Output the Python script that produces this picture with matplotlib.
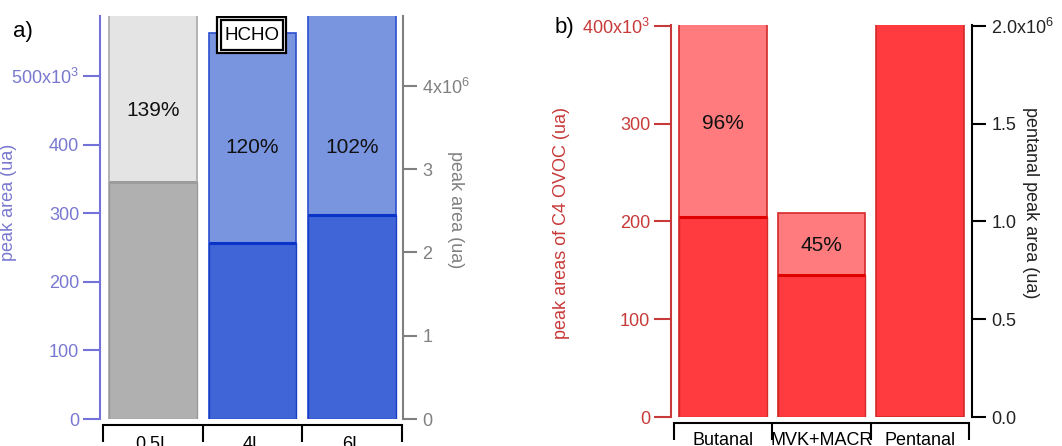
import matplotlib
matplotlib.use("Agg")
import matplotlib.pyplot as plt
from matplotlib.patches import Rectangle
from matplotlib.ticker import FixedLocator
import numpy as np

plt.rcParams['font.family'] = ['Liberation Sans', 'DejaVu Sans']
plt.rcParams['mathtext.fontset'] = 'custom'
plt.rcParams['mathtext.rm'] = 'Liberation Sans'

# panel a: HCHO
cats_a = ['0.5L', '4L', '6L']
dark_a = [345, 256, 297]            # left axis (x10^3)
light_a = [5.0e6, 4.63e6, 5.0e6]    # right axis
pct_a = ['139%', '120%', '102%']
pct_pos_a = [450, 396, 396]

# panel b: C4 OVOC + pentanal
cats_b = ['Butanal', 'MVK+MACR', 'Pentanal']
dark_b = [205, 145]                 # left axis (x10^3)
light_b = [410, 209]
pentanal = [2.05e6]                 # right axis
pct_b = ['96%', '45%']
pct_pos_b = [300, 175]

W, H = 1062, 446
fig = plt.figure(figsize=(W / 100, H / 100), dpi=100)

TICK_FS = 13
LAB_FS = 13


def style_bottom(ax, cats, xl, xr, pad):
    ax.set_xlim(xl, xr)
    ax.spines['top'].set_visible(False)
    ax.spines['bottom'].set_position(('outward', 4))
    ax.spines['bottom'].set_bounds(-0.5, len(cats) - 0.5)
    ax.spines['bottom'].set_linewidth(1.5)
    ax.xaxis.set_major_locator(FixedLocator(np.arange(len(cats) + 1) - 0.5))
    ax.xaxis.set_minor_locator(FixedLocator(np.arange(len(cats))))
    ax.set_xticklabels([''] * (len(cats) + 1))
    ax.set_xticklabels(cats, minor=True)
    ax.tick_params(axis='x', which='major', direction='out', length=12, width=1.5)
    ax.tick_params(axis='x', which='minor', length=0, labelsize=TICK_FS, pad=pad)


# ---------------- panel a ----------------
ax = fig.add_axes([100 / W, 27 / H, 303 / W, 403.3 / H])
axr = ax.twinx()
ax.set_zorder(axr.get_zorder() + 1)
ax.patch.set_visible(False)

x = np.arange(len(cats_a))
light_col = ['#e4e4e4', '#7a95e0', '#7a95e0']
light_edge = ['#a8a8a8', '#2a4fd0', '#2a4fd0']
dark_col = ['#b0b0b0', '#4065d6', '#4065d6']
dark_edge = ['#9a9a9a', '#1a40c8', '#1a40c8']
top_col = ['#9c9c9c', '#0a34c8', '#0a34c8']

axr.bar(x, light_a, width=0.88, color=light_col, edgecolor=light_edge, linewidth=1.2)
ax.bar(x, dark_a, width=0.88, color=dark_col, edgecolor=dark_edge, linewidth=1.0)
ax.hlines(dark_a, x - 0.44, x + 0.44, colors=top_col, linewidth=2.2)

ax.set_ylim(0, 588)
axr.set_ylim(0, 4.84e6)

lc = '#7272d8'
ax.spines['left'].set_color(lc)
ax.spines['left'].set_linewidth(1.5)
ax.spines['right'].set_visible(False)
ax.set_yticks([0, 100, 200, 300, 400, 500])
ax.set_yticklabels(['0', '100', '200', '300', '400', '500x10$^{3}$'])
ax.tick_params(axis='y', direction='out', length=12, width=1.5, color=lc,
               labelcolor='#7878d0', labelsize=TICK_FS, pad=3)
ax.set_ylabel('peak area (ua)', color='#7878d0', fontsize=LAB_FS)
ax.yaxis.set_label_coords(-0.274, 0.536)

rc = '#808080'
axr.spines['right'].set_color(rc)
axr.spines['right'].set_linewidth(1.5)
for s in ['left', 'top', 'bottom']:
    axr.spines[s].set_visible(False)
axr.set_yticks([0, 1e6, 2e6, 3e6, 4e6])
axr.set_yticklabels(['0', '1', '2', '3', '4x10$^{6}$'])
axr.tick_params(axis='y', direction='out', length=10, width=1.5, color=rc,
                labelcolor=rc, labelsize=TICK_FS, pad=4)
axr.set_ylabel('peak area (ua)', color=rc, fontsize=LAB_FS, rotation=270, va='center')
axr.yaxis.set_label_coords(1.172, 0.518)

style_bottom(ax, cats_a, -0.53, 2.51, 8.5)

for i, t in enumerate(pct_a):
    ax.text(x[i], pct_pos_a[i], t, ha='center', va='center', fontsize=15, color='#111111')

# HCHO double frame box
ax.add_patch(Rectangle((0.64, 533.5), 0.70, 52.5, fc='white', ec='black', lw=1.6, zorder=5))
ax.add_patch(Rectangle((0.68, 538), 0.63, 43.6, fc='white', ec='black', lw=1.6, zorder=6))
ax.text(0.995, 559, 'HCHO', ha='center', va='center', fontsize=13.5, color='black', zorder=7)

fig.text(13 / W, 1 - 32 / H, 'a)', fontsize=16, ha='left', va='center')

# ---------------- panel b ----------------
bx = fig.add_axes([671 / W, 29 / H, 301 / W, 392 / H])
bxr = bx.twinx()

xb = np.arange(len(dark_b))
bx.bar(xb, light_b, width=0.89, color='#ff7b7d', edgecolor='#d42a2a', linewidth=1.2)
bx.bar(xb, dark_b, width=0.89, color='#ff3b3f', edgecolor='#d42a2a', linewidth=1.0)
bx.hlines(dark_b, xb - 0.445, xb + 0.445, colors='#e00000', linewidth=2.2)
bxr.bar([2], pentanal, width=0.89, color='#ff3b3f', edgecolor='#d42a2a', linewidth=1.2)

bx.set_ylim(0, 401)
bxr.set_ylim(0, 2.005e6)

rcol = '#c83a3a'
bx.spines['left'].set_color(rcol)
bx.spines['left'].set_linewidth(1.5)
bx.spines['right'].set_visible(False)
bx.set_yticks([0, 100, 200, 300, 400])
bx.set_yticklabels(['0', '100', '200', '300', '400x10$^{3}$'])
bx.tick_params(axis='y', direction='out', length=12, width=1.5, color=rcol,
               labelcolor=rcol, labelsize=TICK_FS, pad=3)
bx.set_ylabel('peak areas of C4 OVOC (ua)', color=rcol, fontsize=LAB_FS)
bx.yaxis.set_label_coords(-0.336, 0.495)

bxr.spines['right'].set_color('black')
bxr.spines['right'].set_linewidth(1.5)
for s in ['left', 'top', 'bottom']:
    bxr.spines[s].set_visible(False)
bxr.set_yticks([0, 0.5e6, 1e6, 1.5e6, 2e6])
bxr.set_yticklabels(['0.0', '0.5', '1.0', '1.5', '2.0x10$^{6}$'])
bxr.tick_params(axis='y', direction='out', length=10, width=1.5, color='black',
                labelcolor='#222222', labelsize=TICK_FS, pad=4)
bxr.set_ylabel('pentanal peak area (ua)', color='#222222', fontsize=LAB_FS,
               rotation=270, va='center')
bxr.yaxis.set_label_coords(1.193, 0.546)

style_bottom(bx, cats_b, -0.53, 2.53, 6.5)

for i, t in enumerate(pct_b):
    bx.text(xb[i], pct_pos_b[i], t, ha='center', va='center', fontsize=15, color='#111111')

fig.text(555 / W, 1 - 28 / H, 'b)', fontsize=16, ha='left', va='center')

fig.savefig('out.png', dpi=100)
